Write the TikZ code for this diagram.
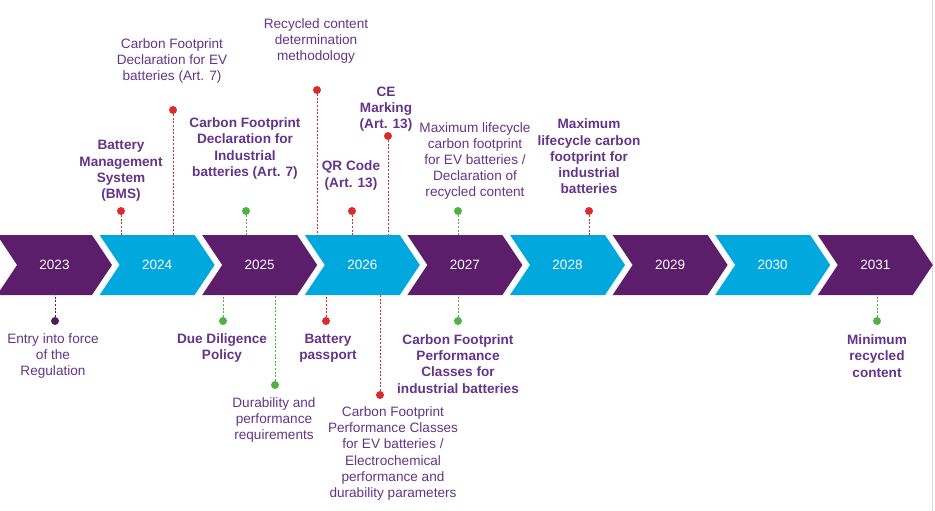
\documentclass[tikz,border=0pt]{standalone}
\usepackage{fontspec}
\setmainfont{Liberation Sans}
\usetikzlibrary{shapes.symbols}
\definecolor{evPurple}{RGB}{92,30,106}
\definecolor{evCyan}{RGB}{0,168,222}
\definecolor{evText}{RGB}{100,52,138}
\definecolor{evRed}{RGB}{218,44,44}
\definecolor{evGreen}{RGB}{76,178,64}
\definecolor{evDot}{RGB}{78,30,92}
\begin{document}
\begin{tikzpicture}[x=1pt, y=-1pt,
    yr/.style={signal, signal from=west, signal to=east, signal pointer angle=112.6,
      minimum width=115pt, minimum height=60pt, inner sep=0pt, text=white,
      font=\fontsize{13.5}{16}\selectfont},
    yrodd/.style={yr, fill=evPurple},
    yreven/.style={yr, fill=evCyan},
    dot/.style={circle, inner sep=0pt, minimum size=8pt},
    lbl/.style={text=evText, align=center, font=\fontsize{13.6}{16.2}\selectfont},
    lblb/.style={text=evText, align=center, font=\bfseries\fontsize{13.6}{16.2}\selectfont},
    stem/.style={line width=1pt, dash pattern=on 2pt off 1.6pt},
  ]
  \useasboundingbox (0,0) rectangle (935,511);
  \draw[gray!30] (932,0) -- (932,511);

  % Years
  \node[yrodd]  (y2023) at (54.5,265)  {2023};
  \node[yreven] (y2024) at (157.1,265) {2024};
  \node[yrodd]  (y2025) at (259.7,265) {2025};
  \node[yreven] (y2026) at (362.3,265) {2026};
  \node[yrodd]  (y2027) at (464.9,265) {2027};
  \node[yreven] (y2028) at (567.5,265) {2028};
  \node[yrodd]  (y2029) at (670.1,265) {2029};
  \node[yreven] (y2030) at (772.7,265) {2030};
  \node[yrodd]  (y2031) at (875.3,265) {2031};

  % Milestones above
  \node[dot, fill=evRed]   (bms)    at (121,211) {};
  \node[dot, fill=evRed]   (cfev)   at (173,110) {};
  \node[dot, fill=evGreen] (cfind)  at (246,211) {};
  \node[dot, fill=evRed]   (recyc)  at (317,90)  {};
  \node[dot, fill=evRed]   (qr)     at (352,211) {};
  \node[dot, fill=evRed]   (ce)     at (388,136) {};
  \node[dot, fill=evGreen] (maxev)  at (458,211) {};
  \node[dot, fill=evRed]   (maxind) at (589,211) {};

  \draw[stem, evRed]   (bms)    -- (bms |- y2024.north);
  \draw[stem, evRed]   (cfev)   -- (cfev |- y2024.north);
  \draw[stem, evGreen] (cfind)  -- (cfind |- y2025.north);
  \draw[stem, evRed]   (recyc)  -- (recyc |- y2026.north);
  \draw[stem, evRed]   (qr)     -- (qr |- y2026.north);
  \draw[stem, evRed]   (ce)     -- (ce |- y2026.north);
  \draw[stem, evGreen] (maxev)  -- (maxev |- y2027.north);
  \draw[stem, evRed]   (maxind) -- (maxind |- y2028.north);

  \node[lblb] (tbms)    at (121,171)   {Battery\\Management\\System\\(BMS)};
  \node[lbl]  (tcfev)   at (172,60.7)  {Carbon Footprint\\Declaration for EV\\batteries (Art. 7)};
  \node[lblb] (tcfind)  at (245,148.5) {Carbon Footprint\\Declaration for\\Industrial\\batteries (Art. 7)};
  \node[lbl]  (trecyc)  at (316,40.7)  {Recycled content\\determination\\methodology};
  \node[lblb] (tqr)     at (351,175.5) {QR Code\\(Art. 13)};
  \node[lblb] (tce)     at (386,109)   {CE\\Marking\\(Art. 13)};
  \node[lbl]  (tmaxev)  at (475,161)   {Maximum lifecycle\\carbon footprint\\for EV batteries /\\Declaration of\\recycled content};
  \node[lblb] (tmaxind) at (589,156.5) {Maximum\\lifecycle carbon\\footprint for\\industrial\\batteries};

  % Milestones below
  \node[dot, fill=evDot]   (entry)  at (55,321)  {};
  \node[dot, fill=evGreen] (dd)     at (223,321) {};
  \node[dot, fill=evGreen] (dur)    at (275,385) {};
  \node[dot, fill=evRed]   (pass)   at (326,321) {};
  \node[dot, fill=evRed]   (cfpev)  at (380,395) {};
  \node[dot, fill=evGreen] (cfpind) at (458,321) {};
  \node[dot, fill=evGreen] (minrec) at (877,321) {};

  \draw[stem, evDot]   (entry)  -- (entry |- y2023.south);
  \draw[stem, evGreen] (dd)     -- (dd |- y2025.south);
  \draw[stem, evGreen] (dur)    -- (dur |- y2025.south);
  \draw[stem, evRed]   (pass)   -- (pass |- y2026.south);
  \draw[stem, evRed]   (cfpev)  -- (cfpev |- y2026.south);
  \draw[stem, evGreen] (cfpind) -- (cfpind |- y2027.south);
  \draw[stem, evGreen] (minrec) -- (minrec |- y2031.south);

  \node[lbl]  (tentry)  at (53,356)    {Entry into force\\of the\\Regulation};
  \node[lblb] (tdd)     at (222,348)   {Due Diligence\\Policy};
  \node[lbl]  (tdur)    at (274,420)   {Durability and\\performance\\requirements};
  \node[lblb] (tpass)   at (328,348)   {Battery\\passport};
  \node[lbl]  (tcfpev)  at (393,453.5) {Carbon Footprint\\Performance Classes\\for EV batteries /\\Electrochemical\\performance and\\durability parameters};
  \node[lblb] (tcfpind) at (458,364)   {Carbon Footprint\\Performance\\Classes for\\industrial batteries};
  \node[lblb] (tminrec) at (877,356)   {Minimum\\recycled\\content};
\end{tikzpicture}
\end{document}
